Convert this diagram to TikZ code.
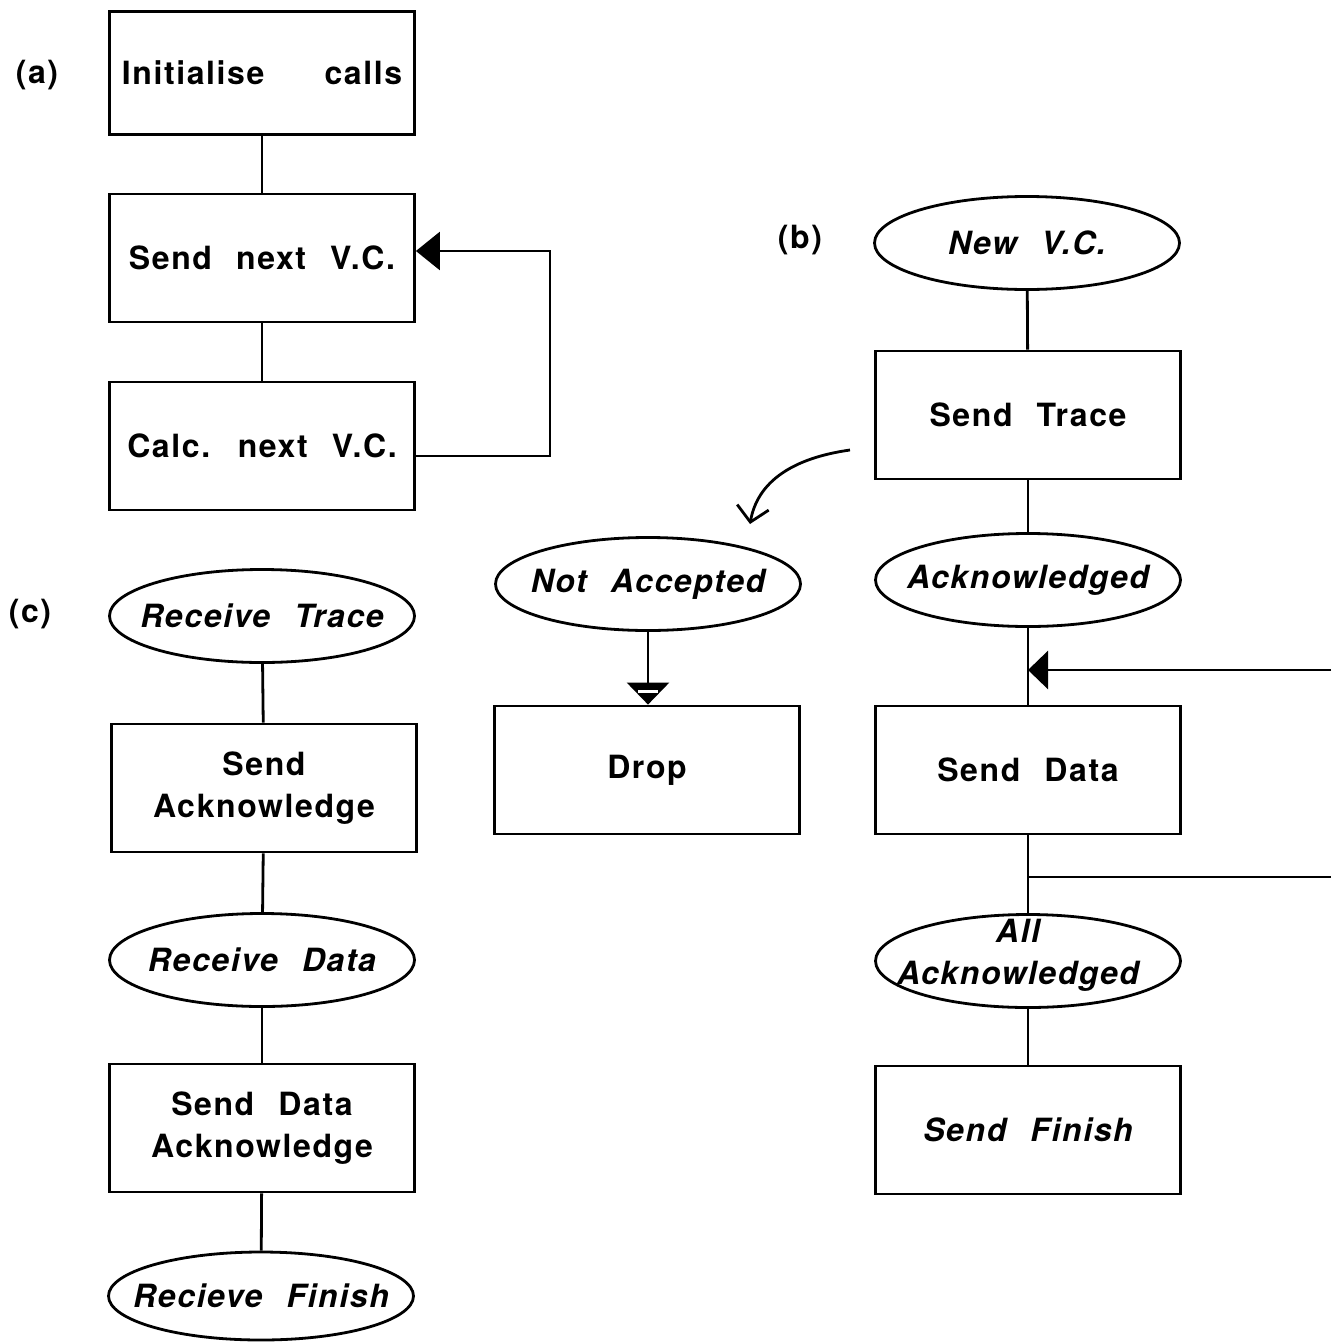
\documentclass[tikz,border=0pt]{standalone}
\usepackage{fontspec}
\setmainfont{TeX Gyre Heros}[LetterSpace=5,WordSpace=2.3]
\usetikzlibrary{shapes.geometric,arrows.meta}

\begin{document}
\begin{tikzpicture}[x=1pt,y=-1pt,line width=2.8pt,
    font=\fontsize{32}{42}\selectfont\bfseries,
    box/.style={draw,rectangle,minimum width=305pt,minimum height=128pt,align=center,inner sep=0pt},
    oval/.style={draw,ellipse,minimum width=305pt,minimum height=93pt,inner sep=0pt},
    otext/.style={font=\fontsize{32}{42}\selectfont\bfseries\itshape,align=center},
    fat/.style={-{Triangle[length=24pt,width=38pt]}}]
      \useasboundingbox (0,0) rectangle (1331,1344);
      % (a) call set-up loop
      \node (lbla) at (37,75) {(a)};
      \node[box,minimum height=123pt] (init) at (262,73) {Initialise\hspace{36pt} calls};
      \node[box] (sendvc) at (262,258) {Send next V.C.};
      \node[box] (calcvc) at (262,446) {Calc. next V.C.};
      \draw (init) -- (sendvc);
      \draw (sendvc) -- (calcvc);
      \draw[fat] ([yshift=-10pt]calcvc.east) -- ++(134,0) |- ([yshift=7pt]sendvc.east);
      % (b) sender side
      \node (lblb) at (800,240) {(b)};
      \node[oval,label={[otext]center:New V.C.}] (newvc) at (1027,243) {};
      \node[box] (strace) at (1028,415) {Send Trace};
      \node[oval,label={[otext]center:Acknowledged}] (ackd) at (1028,580) {};
      \node[box] (sdata) at (1028,770) {Send Data};
      \node[oval,label={[otext,xshift=-10pt,yshift=6pt]center:All\\Acknowledged}] (allack) at (1028,961) {};
      \node[box,otext] (sfin) at (1028,1130) {Send Finish};
      \node[oval,label={[otext]center:Not Accepted}] (notacc) at (648,584) {};
      \node[box] (drop) at (647,770) {Drop};
      \draw (newvc) -- (strace);
      \draw (strace) -- (ackd);
      \draw (ackd) -- (sdata);
      \draw (sdata) -- (allack);
      \draw (allack) -- (sfin);
      \coordinate (retin) at (1331,670);
      \coordinate (retout) at (1331,877);
      \draw[-{Triangle[length=20pt,width=38pt]}] (retin) -- (ackd.south |- retin);
      \draw (sdata.south |- retout) -- (retout);
      \draw[-{Triangle[length=22pt,width=42pt]}] (notacc.south) -- (notacc.south |- drop.north);
      \draw[white,line width=2.5pt] ([xshift=-10pt,yshift=13pt]drop.north -| notacc.south) -- ++(20,0);
      \coordinate (cfrom) at (850,450);
      \coordinate (cto) at (750,524);
      \draw[-{Straight Barb[length=15pt,width=32pt]}] (cfrom) to[out=188,in=80] (cto);
      % (c) receiver side
      \node (lblc) at (30,614) {(c)};
      \node[oval,label={[otext]center:Receive Trace}] (rtrace) at (262,616) {};
      \node[box] (sack) at (264,788) {Send\\Acknowledge};
      \node[oval,label={[otext]center:Receive Data}] (rdata) at (262,960) {};
      \node[box] (sdack) at (262,1128) {Send Data\\Acknowledge};
      \node[oval,minimum height=88pt,label={[otext]center:Recieve Finish}] (rfin) at (261,1296) {};
      \draw (rtrace) -- (sack);
      \draw (sack) -- (rdata);
      \draw (rdata) -- (sdack);
      \draw (sdack) -- (rfin);
    \end{tikzpicture}
\end{document}
